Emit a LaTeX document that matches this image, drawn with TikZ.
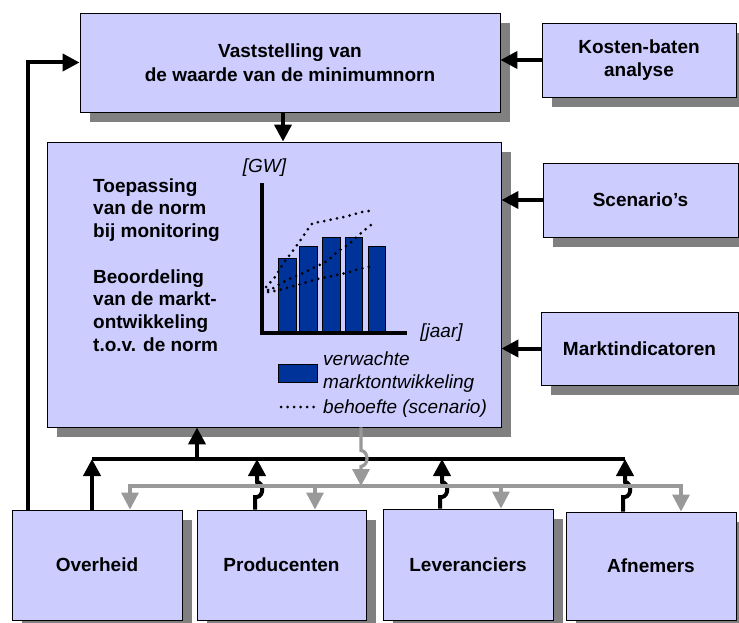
\documentclass[tikz,border=0pt]{standalone}
\usepackage{fontspec}
\setmainfont{Liberation Sans}
\usetikzlibrary{arrows.meta,shadows}
\definecolor{boxfill}{HTML}{CCCCFF}
\definecolor{shadowgray}{HTML}{808080}
\definecolor{linegray}{HTML}{999999}
\definecolor{barblue}{HTML}{003399}
\begin{document}
\begin{tikzpicture}[x=1pt,y=-1pt,
  box/.style={draw=black, line width=0.9pt, fill=boxfill, inner sep=0pt, align=center,
    font=\bfseries\fontsize{19}{23}\selectfont,
    drop shadow={shadow xshift=10pt, shadow yshift=-10pt, fill=shadowgray, opacity=1}},
  blk/.style={line width=4pt, draw=black, -{Triangle[width=17pt,length=17pt]}},
  gry/.style={line width=3.2pt, draw=linegray, -{Triangle[width=17pt,length=17pt]}},
  bar/.style={fill=barblue, draw=black, line width=1pt},
  dots/.style={line width=3pt, line cap=round, dash pattern=on 0pt off 6.5pt},
  lbl/.style={font=\bfseries\fontsize{19}{22.8}\selectfont, inner sep=0pt, align=left},
  itl/.style={font=\itshape\fontsize{19}{23}\selectfont, inner sep=0pt, align=left}]
\fill[white] (0,0) rectangle (739,623);
\useasboundingbox (0,0) rectangle (739,623);

% boxes
\node[box, minimum width=420pt, minimum height=99pt,
  font=\bfseries\fontsize{19}{24.5}\selectfont] (vast) at (290,62.5)
  {Vaststelling van\\de waarde van de minimumnorn};
\node[box, minimum width=194pt, minimum height=74pt] (kost) at (639,60) {Kosten-baten\\analyse};
\node[box, minimum width=454pt, minimum height=285pt] (main) at (274,284.5) {};
\node[box, minimum width=195pt, minimum height=74pt] (scen) at (640.5,200) {Scenario’s};
\node[box, minimum width=197pt, minimum height=73pt] (mark) at (639.5,348.5) {Marktindicatoren};
\node[box, minimum width=170pt, minimum height=110pt] (over) at (97,565) {Overheid};
\node[box, minimum width=169pt, minimum height=110pt] (prod) at (281.5,565) {Producenten};
\node[box, minimum width=170pt, minimum height=111pt] (lev) at (468,564.5) {Leveranciers};
\node[box, minimum width=170pt, minimum height=108pt] (afn) at (651,566) {Afnemers};

% main box texts (base anchor = last line)
\node[lbl, anchor=base west] (t1) at (93,237.6) {Toepassing\\van de norm\\bij monitoring};
\node[lbl, anchor=base west] (t2) at (93,351.4) {Beoordeling\\van de markt-\\ontwikkeling\\t.o.v. de norm};

% chart
\draw[bar] (278,258) rectangle (296,333);
\draw[bar] (299,246) rectangle (317,333);
\draw[bar] (322,237) rectangle (340,333);
\draw[bar] (345,237) rectangle (362,333);
\draw[bar] (368,246) rectangle (385,333);
\draw[dots] plot[smooth] coordinates {(266,287) (275,277) (283,264) (292,252) (300,241) (308,229) (313,223) (320,222) (334,219) (348,216) (362,212) (369,211)};
\draw[dots] plot[smooth] coordinates {(268,292) (275,287) (287,280) (301,274) (313,268) (327,261) (337,252) (349,244) (360,234) (371,225)};
\draw[dots] plot[smooth] coordinates {(268,290) (275,291) (290,287) (304,283) (318,279) (332,276) (346,273) (359,269) (373,266)};
\draw[line width=3.6pt] (262,183) -- (262,333) -- (407,333);
\node[itl] (gw) at (264.5,168) {[GW]};
\node[itl] (jaar) at (441.5,333) {[jaar]};
\draw[bar] (278,364) rectangle (317,382);
\draw[dots] (281,407) -- (317,407);
\node[itl, anchor=base west] (leg1) at (323,388) {verwachte\\marktontwikkeling};
\node[itl, anchor=base west] (leg2) at (323,413) {behoefte (scenario)};

% black connectors
\draw[blk] (kost.west) -- (kost.west -| vast.east);
\coordinate (c1) at (283,0);
\draw[blk] (c1 |- vast.south) -- (c1 |- main.north);
\draw[blk] (scen.west) -- (scen.west -| main.east);
\draw[blk] (mark.west) -- (mark.west -| main.east);
\coordinate (ol) at (28,0);
\draw[blk] (ol |- over.north) |- (vast.west);

\coordinate (bL) at (92,459);
\coordinate (bR) at (625,459);
\coordinate (bM) at (197,459);
\draw[line width=4pt] (bL) -- (bR);
\draw[blk] (bM) -- (bM |- main.south);
\draw[blk] (bL |- over.north) -- (bL);
\coordinate (hp) at (255,0);
\coordinate (hl) at (440,0);
\coordinate (ha) at (623,0);
\draw[blk] (hp |- prod.north) -- (255,497) -- ++(2,0) .. controls +(7,-1) and +(7,1) .. ++(0,-15) -- ++(0,-23);
\draw[blk] (hl |- lev.north) -- (440,497) -- ++(2,0) .. controls +(7,-1) and +(7,1) .. ++(0,-15) -- ++(0,-23);
\draw[blk] (ha |- afn.north) -- (623,497) -- ++(2,0) .. controls +(7,-1) and +(7,1) .. ++(0,-15) -- ++(0,-23);

% grey connectors
\coordinate (g1) at (130,486);
\coordinate (g2) at (315,486);
\coordinate (g3) at (501,486);
\coordinate (g4) at (681,486);
\draw[gry, {Triangle[width=17pt,length=17pt]}-{Triangle[width=17pt,length=17pt]}]
  (g1 |- over.north) -- (g1) -- (g4) -- (g4 |- afn.north);
\draw[gry] (g2) -- (g2 |- prod.north);
\draw[gry] (g3) -- (g3 |- lev.north);
\coordinate (gm) at (361,0);
\draw[gry] (gm |- main.south) -- ++(0,23) .. controls +(8,1) and +(8,-1) .. ++(0,16) -- (gm |- g1);
\end{tikzpicture}
\end{document}
